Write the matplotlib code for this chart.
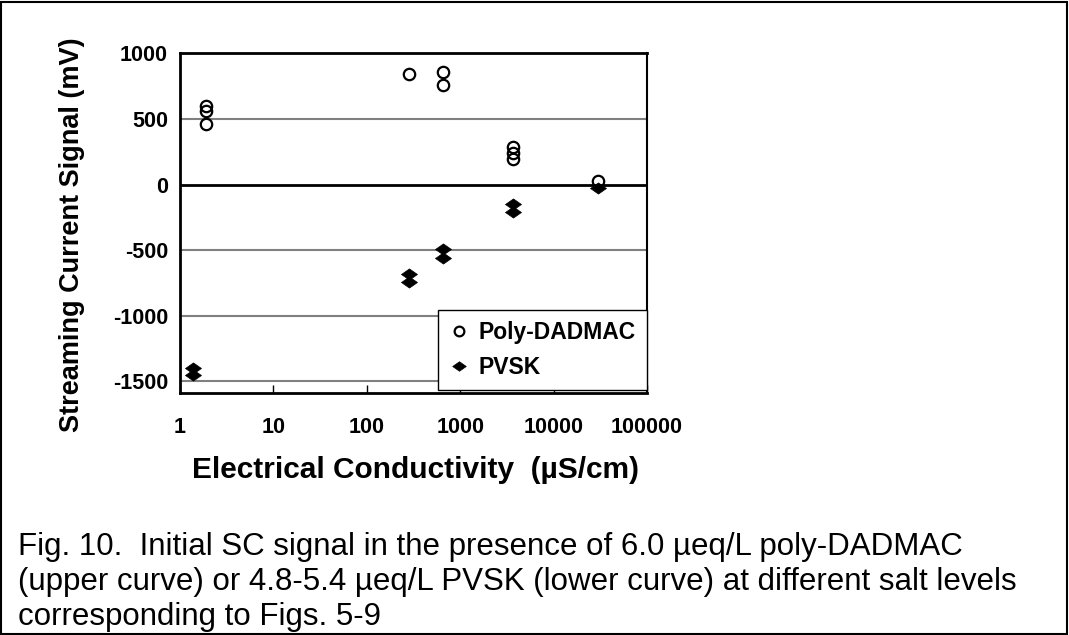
import matplotlib
matplotlib.use("Agg")
import matplotlib.pyplot as plt
from matplotlib.patches import Rectangle

plt.rcParams['font.family'] = ['Liberation Sans', 'DejaVu Sans']

# Data
dadmac_x = [1.9, 1.9, 1.9, 285, 660, 660, 3700, 3700, 3700, 30000]
dadmac_y = [600, 560, 460, 845, 858, 762, 285, 240, 195, 25]
pvsk_x = [1.37, 1.37, 285, 285, 660, 660, 3700, 3700, 30000]
pvsk_y = [-1395, -1455, -685, -740, -492, -558, -150, -210, -25]

xticks = [1, 10, 100, 1000, 10000, 100000]
xticklabels = ['1', '10', '100', '1000', '10000', '100000']
yticks = [-1500, -1000, -500, 0, 500, 1000]
yticklabels = ['-1500', '-1000', '-500', '0', '500', '1000']
grid_levels = [-1500, -1000, -500, 500]

caption_lines = ["Fig. 10.  Initial SC signal in the presence of 6.0 µeq/L poly-DADMAC",
                 "(upper curve) or 4.8-5.4 µeq/L PVSK (lower curve) at different salt levels",
                 "corresponding to Figs. 5-9"]

W, H = 1069, 635
fig = plt.figure(figsize=(W / 100, H / 100), dpi=100)
ax = fig.add_axes([180 / W, 1 - 393.3 / H, 467 / W, 340 / H])

for g in grid_levels:
    ax.axhline(g, color='#808080', lw=1.5, zorder=1)
ax.axhline(0, color='black', lw=2, zorder=1)

flat_diamond = [(-1, 0), (0, 0.7), (1, 0), (0, -0.7), (-1, 0)]

ax.plot(dadmac_x, dadmac_y, linestyle='none', marker='o', markersize=8.2,
        markerfacecolor='none', markeredgecolor='black', markeredgewidth=1.6,
        label='Poly-DADMAC', zorder=3)
ax.plot(pvsk_x, pvsk_y, linestyle='none', marker=flat_diamond, markersize=11.5,
        markerfacecolor='black', markeredgecolor='black', markeredgewidth=0.5,
        label='PVSK', zorder=3)

ax.set_xscale('log')
ax.set_xlim(1, 100000)
ax.set_ylim(-1591, 1000)
ax.set_xticks(xticks)
ax.set_xticklabels(xticklabels)
ax.minorticks_off()
ax.set_yticks(yticks)
ax.set_yticklabels(yticklabels)
ax.tick_params(axis='x', direction='in', length=6, width=1, pad=17, labelsize=15.5)
ax.tick_params(axis='y', length=0, pad=8.6, labelsize=15.5)
for lab in ax.get_xticklabels() + ax.get_yticklabels():
    lab.set_fontweight('bold')

for s in ['left', 'bottom', 'top']:
    ax.spines[s].set_linewidth(2)
ax.spines['right'].set_linewidth(1.5)

ax.set_xlabel('Electrical Conductivity  (µS/cm)', fontsize=21.5, fontweight='bold')
ax.xaxis.set_label_coords(415 / W, 1 - 470 / H, transform=fig.transFigure)
ax.xaxis.label.set_verticalalignment('center')
ax.set_ylabel('Streaming Current Signal (mV)', fontsize=19.5, fontweight='bold')
ax.yaxis.set_label_coords(72 / W, 1 - 235 / H, transform=fig.transFigure)
ax.yaxis.label.set_verticalalignment('center')
ax.yaxis.label.set_rotation_mode('default')

leg = ax.legend(loc='lower right', bbox_to_anchor=(1.0, 0.009), borderaxespad=0,
                fancybox=False, edgecolor='black', framealpha=1,
                prop={'weight': 'bold', 'size': 16.5}, markerscale=0.85,
                handlelength=0.8, handletextpad=0.45, labelspacing=0.5,
                borderpad=0.5)
leg.get_frame().set_linewidth(1)

for i, line in enumerate(caption_lines):
    fig.text(18 / W, 1 - (555 + 35 * i) / H, line, fontsize=22.5,
             va='baseline', ha='left')

fig.patches.append(Rectangle((1 / W, 1 / H), (W - 3) / W, (H - 3) / H,
                             transform=fig.transFigure, fill=False,
                             edgecolor='black', lw=1.5))

fig.savefig('out.png', dpi=100)
